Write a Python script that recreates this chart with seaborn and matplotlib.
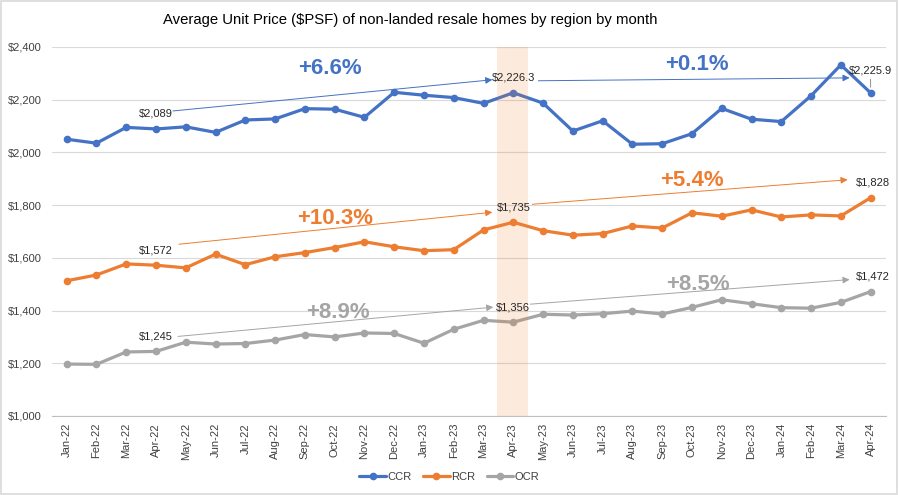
import pandas as pd
import numpy as np
import seaborn as sns
import matplotlib.pyplot as plt
import matplotlib.transforms as mtransforms
from matplotlib.lines import Line2D
from matplotlib.patches import Rectangle

# datos
months = ['Jan-22', 'Feb-22', 'Mar-22', 'Apr-22', 'May-22', 'Jun-22', 'Jul-22', 'Aug-22',
          'Sep-22', 'Oct-22', 'Nov-22', 'Dec-22', 'Jan-23', 'Feb-23', 'Mar-23', 'Apr-23',
          'May-23', 'Jun-23', 'Jul-23', 'Aug-23', 'Sep-23', 'Oct-23', 'Nov-23', 'Dec-23',
          'Jan-24', 'Feb-24', 'Mar-24', 'Apr-24']
ccr = [2050, 2035, 2095, 2089, 2097, 2076, 2123, 2127, 2166, 2164, 2133, 2228, 2217, 2208,
       2186, 2226.3, 2187, 2081, 2120, 2031, 2033, 2071, 2167, 2126, 2117, 2215, 2332, 2225.9]
rcr = [1513, 1535, 1577, 1572, 1562, 1614, 1574, 1604, 1620, 1639, 1661, 1642, 1627, 1631,
       1706, 1735, 1703, 1686, 1692, 1721, 1713, 1771, 1758, 1782, 1755, 1763, 1759, 1828]
ocr = [1197, 1196, 1243, 1245, 1280, 1273, 1275, 1288, 1309, 1300, 1315, 1313, 1276, 1329,
       1363, 1356, 1386, 1383, 1388, 1398, 1387, 1412, 1441, 1426, 1411, 1409, 1431, 1472]
regions = ['CCR', 'RCR', 'OCR']
colors = {'CCR': '#4472C4', 'RCR': '#ED7D31', 'OCR': '#A5A5A5'}

# puntos con etiqueta (indice del mes)
label_idx = [3, 15, 27]
pct_text = {'CCR': ['+6.6%', '+0.1%'], 'RCR': ['+10.3%', '+5.4%'], 'OCR': ['+8.9%', '+8.5%']}

df = pd.DataFrame({'idx': np.tile(np.arange(len(months)), 3),
                   'price': ccr + rcr + ocr,
                   'region': np.repeat(regions, len(months))})
series = {'CCR': ccr, 'RCR': rcr, 'OCR': ocr}

sns.set_style("white")
plt.rcParams['font.family'] = ['Liberation Sans', 'DejaVu Sans']

fig = plt.figure(figsize=(8.99, 4.95), dpi=100)
ax = fig.add_axes([0.0576, 0.1596, 0.9274, 0.7455])

sns.lineplot(data=df, x='idx', y='price', hue='region', palette=colors, marker='o',
             markersize=5.5, markeredgewidth=0, linewidth=2.3, legend=False, ax=ax)

ax.set_xlim(-0.5, len(months) - 0.5)
ax.set_ylim(1000, 2400)
ax.set_yticks(range(1000, 2401, 200))
ax.yaxis.set_major_formatter('${x:,.0f}')
ax.set_xticks(range(len(months)))
ax.set_xticklabels(months, rotation=90, fontsize=8, color='#404040')
ax.set_xticks(np.arange(-0.5, len(months), 1), minor=True)
ax.tick_params(axis='x', which='major', length=0, pad=5)
ax.tick_params(axis='x', which='minor', length=4, color='#BFBFBF', width=0.8)
ax.tick_params(axis='y', length=0, labelsize=8, labelcolor='#404040', pad=7)
ax.set_xlabel('')
ax.set_ylabel('')
ax.grid(axis='y', color='#D9D9D9', linewidth=0.8)
for s in ['top', 'right', 'left']:
    ax.spines[s].set_visible(False)
ax.spines['bottom'].set_color('#BFBFBF')
ax.spines['bottom'].set_linewidth(0.8)

# banda resaltada Apr-23
ax.add_patch(Rectangle((14.45, 1000), 1.05, 1400, facecolor='#ED7D31', alpha=0.16,
                       edgecolor='none', zorder=5))

# etiquetas de datos
for r in regions:
    for i in label_idx:
        v = series[r][i]
        txt = f'${v:,.1f}' if v % 1 else f'${v:,.0f}'
        if r == 'CCR' and i == 27:
            ax.annotate(txt, xy=(i, v), xytext=(0, 22), textcoords='offset pixels',
                        ha='center', va='center', fontsize=8, zorder=6,
                        arrowprops=dict(arrowstyle='-', color='#7F7F7F', lw=0.6,
                                        shrinkA=0, shrinkB=4))
        else:
            dx = 2 if i == 27 else 0
            ax.annotate(txt, xy=(i, v), xytext=(dx, 15), textcoords='offset pixels',
                        ha='center', va='center', fontsize=8, zorder=6)

# flechas de tendencia: (desde, offset) -> (hasta, offset), offsets en pixeles
arrow_offsets = {
    'CCR': [((17, 18), (-21, 13)), ((25, 12), (-21, 15))],
    'RCR': [((23, 21), (-21, 10)), ((19, 18), (-23, 18))],
    'OCR': [((22, 15), (-20, 15)), ((17, 18), (-21, 12))],
}
for r in regions:
    v = series[r]
    for k, (a, b) in enumerate(arrow_offsets[r]):
        i0, i1 = label_idx[k], label_idx[k + 1]
        t0 = mtransforms.offset_copy(ax.transData, fig=fig, x=a[0], y=a[1], units='dots')
        t1 = mtransforms.offset_copy(ax.transData, fig=fig, x=b[0], y=b[1], units='dots')
        ax.annotate('', xy=(i1, v[i1]), xycoords=t1, xytext=(i0, v[i0]), textcoords=t0,
                    arrowprops=dict(arrowstyle='-|>', color=colors[r], lw=0.7,
                                    mutation_scale=10, shrinkA=0, shrinkB=0), zorder=4)

# porcentajes grandes
pct_pos = {'CCR': [(8.84, 2317), (21.16, 2332)],
           'RCR': [(9.01, 1751), (21.0, 1895)],
           'OCR': [(9.11, 1391), (21.2, 1497)]}
for r in regions:
    for (x, y), t in zip(pct_pos[r], pct_text[r]):
        ax.text(x, y, t, color=colors[r], fontsize=16, fontweight='bold',
                ha='center', va='center', zorder=6)

fig.text(410 / 899, 1 - 20 / 495, 'Average Unit Price ($PSF) of non-landed resale homes by region by month',
         ha='center', va='center', fontsize=10.7, color='#000000')

handles = [Line2D([], [], color=colors[r], lw=2.3, marker='o', markersize=5.5,
                  markeredgewidth=0) for r in regions]
fig.legend(handles, regions, loc='center', bbox_to_anchor=(0.5, 1 - 477 / 495), ncol=3,
           frameon=False, fontsize=8, handlelength=2.4, handletextpad=0.15,
           columnspacing=1.0, labelcolor='#404040')

# borde del grafico
fig.patches.append(Rectangle((0.001, 0.002), 0.997, 0.996, transform=fig.transFigure,
                             fill=False, edgecolor='#D9D9D9', lw=1.2))

plt.savefig('out.png', dpi=100)
